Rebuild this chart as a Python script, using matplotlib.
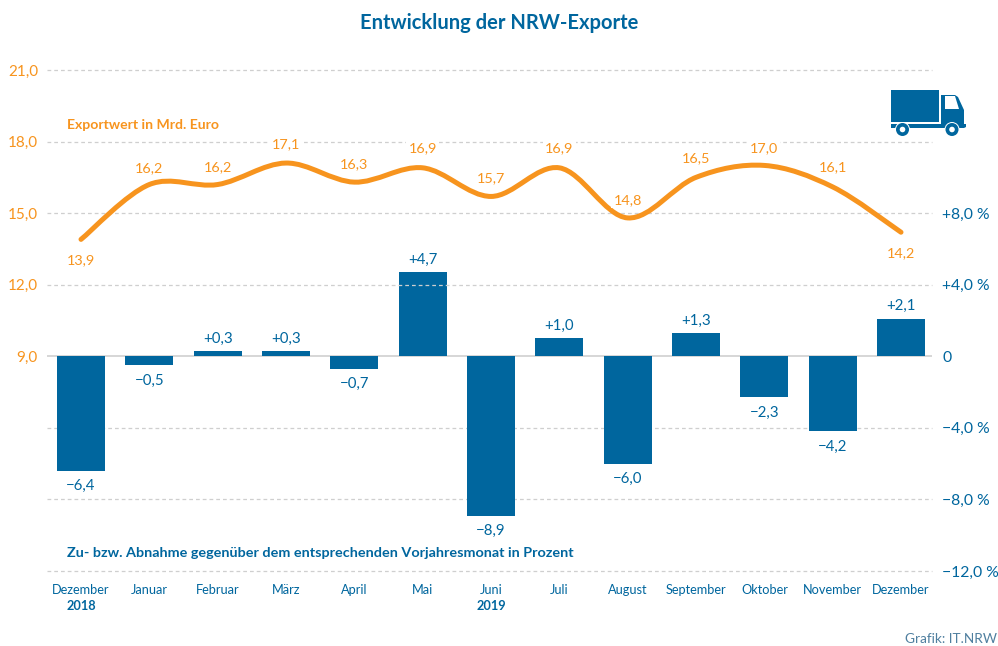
import numpy as np
import matplotlib
matplotlib.use("Agg")
import matplotlib.pyplot as plt
import matplotlib.patches as patches
from matplotlib.path import Path

months = ["Dezember", "Januar", "Februar", "März", "April", "Mai", "Juni", "Juli",
          "August", "September", "Oktober", "November", "Dezember"]
change_pct = [-6.4, -0.5, 0.3, 0.3, -0.7, 4.7, -8.9, 1.0, -6.0, 1.3, -2.3, -4.2, 2.1]
export_value = [13.9, 16.2, 16.2, 17.1, 16.3, 16.9, 15.7, 16.9, 14.8, 16.5, 17.0, 16.1, 14.2]
pct_ticks = [-12, -8, -4, 0, 4, 8]
value_ticks = [9, 12, 15, 18, 21]
# px offset of each orange label from its point
value_label_dy = [-21, 16, 17, 19, 18, 20, 18, 20, 18, 19, 17, 20, -21]

BLUE = "#00669e"
ORANGE = "#f7941e"
GRID = "#cfcfcf"
W, H = 998, 646
PX = 0.72  # px to pt at dpi 100

plt.rcParams["font.family"] = ["Lato", "DejaVu Sans"]


def comma(v, fmt):
    return format(v, fmt).replace(".", ",").replace("-", "\u2212")


def smooth_path(x, y):
    # catmull-rom through the points, as a bezier path
    pts = np.column_stack([x, y])
    verts = [pts[0]]
    codes = [Path.MOVETO]
    for i in range(len(pts) - 1):
        p0 = pts[max(i - 1, 0)]
        p1 = pts[i]
        p2 = pts[i + 1]
        p3 = pts[min(i + 2, len(pts) - 1)]
        verts += [p1 + (p2 - p0) / 6, p2 - (p3 - p1) / 6, p2]
        codes += [Path.CURVE4] * 3
    return Path(verts, codes)


def draw_truck(fig):
    # pixel coords, y down
    def to_fig(pts):
        return [(px / W, 1 - py / H) for px, py in pts]

    def poly(pts, color):
        fig.add_artist(patches.Polygon(to_fig(pts), closed=True, fc=color, ec="none",
                                       transform=fig.transFigure))

    poly([(891, 90), (939, 90), (939, 122), (891, 122)], BLUE)
    poly([(941, 95), (955, 95), (958, 97), (964, 110), (964, 126), (941, 126)], BLUE)
    poly([(891, 124), (966, 124), (966, 127), (964, 128), (891, 128)], BLUE)
    poly([(945, 96), (955, 96), (959, 109), (945, 109)], "white")
    for cx in [902.5, 952]:
        for r, c in [(7.5, "white"), (6.5, BLUE), (2.8, "white")]:
            fig.add_artist(patches.Ellipse((cx / W, 1 - 129.5 / H), 2 * r / W, 2 * r / H,
                                           fc=c, ec="none", transform=fig.transFigure))


fig = plt.figure(figsize=(W / 100, H / 100), dpi=100)
ax = fig.add_axes([47 / W, 1 - 571 / H, (932 - 47) / W, (571 - 70) / H])
ax2 = ax.twinx()

x = np.arange(len(months))
step = 68.33
ax.set_xlim(-(81 - 47) / step, 12 + (932 - 901) / step)
ax.set_ylim(-12, 16)
ax2.set_ylim(0, 21)

for a in (ax, ax2):
    for s in a.spines.values():
        s.set_visible(False)

# grid
dash = (0, (3.0, 2.4))
for t in pct_ticks[:3]:
    ax.axhline(t, color=GRID, lw=0.9, ls=dash, zorder=1, clip_on=False)
for t in value_ticks[1:]:
    ax2.axhline(t, color=GRID, lw=0.9, ls=dash, zorder=1, clip_on=False)
ax.axhline(0, color=GRID, lw=1.2, zorder=1)

ax.bar(x, change_pct, width=48 / step, color=BLUE, zorder=2)
for i, v in zip(x, change_pct):
    ax.annotate(comma(v, "+.1f"), (i, v), xytext=(0, (12.5 if v > 0 else -15.5) * PX),
                textcoords="offset points", ha="center", va="center",
                color=BLUE, fontsize=10.8, zorder=3)

# ax2 sits on top of ax, bars and line are in separate layers
ax2.add_patch(patches.PathPatch(smooth_path(x, np.array(export_value)), fc="none", ec=ORANGE,
                                lw=3.6, capstyle="round", zorder=4))
for i, v, dy in zip(x, export_value, value_label_dy):
    ax2.annotate(comma(v, ".1f"), (i, v), xytext=(0, dy * PX), textcoords="offset points",
                 ha="center", va="center", color=ORANGE, fontsize=10.4, zorder=5,
                 bbox=dict(fc="white", ec="none", pad=1.5))

ax.yaxis.tick_right()
ax.set_yticks(pct_ticks)
ax.set_yticklabels([("0" if t == 0 else comma(t, "+.1f") + " %") for t in pct_ticks],
                   color=BLUE, fontsize=11.3)
ax.tick_params(axis="y", length=0, pad=7.5)
ax2.yaxis.tick_left()
ax2.set_yticks(value_ticks)
ax2.set_yticklabels([comma(t, ".1f") for t in value_ticks], color=ORANGE, fontsize=11)
ax2.tick_params(axis="y", length=0, pad=6.5)

ax.set_xticks(x)
ax.set_xticklabels(months, color=BLUE, fontsize=9.2)
ax.tick_params(axis="x", length=0, pad=9.5)

fig.text(499 / W, 1 - 23 / H, "Entwicklung der NRW-Exporte", ha="center", va="center",
         color=BLUE, fontsize=14.5, fontweight="bold")
fig.text(67 / W, 1 - 125 / H, "Exportwert in Mrd. Euro", ha="left", va="center",
         color=ORANGE, fontsize=10.1, fontweight="bold")
fig.text(67 / W, 1 - 553 / H, "Zu- bzw. Abnahme gegenüber dem entsprechenden Vorjahresmonat in Prozent",
         ha="left", va="center", color=BLUE, fontsize=10.35, fontweight="bold")
fig.text(81 / W, 1 - 606 / H, "2018", ha="center", va="center", color=BLUE, fontsize=9.2, fontweight="bold")
fig.text(491 / W, 1 - 606 / H, "2019", ha="center", va="center", color=BLUE, fontsize=9.2, fontweight="bold")
fig.text(997 / W, 1 - 639 / H, "Grafik: IT.NRW", ha="right", va="center", color="#4f7f9f", fontsize=9.8)

draw_truck(fig)

fig.savefig("out.png", dpi=100)
